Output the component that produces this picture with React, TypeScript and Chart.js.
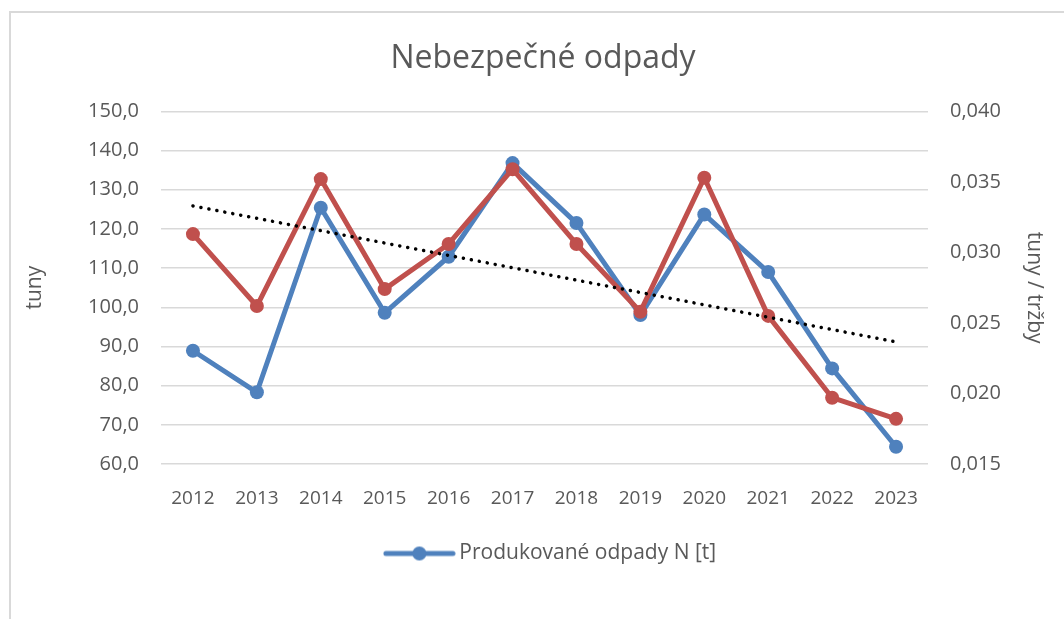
import React, { useEffect, useRef } from 'react';
import { Chart, registerables } from 'chart.js';

Chart.register(...registerables);

const years = ['2012', '2013', '2014', '2015', '2016', '2017', '2018', '2019', '2020', '2021', '2022', '2023'];
const producedWaste = [88.9, 78.3, 125.4, 98.6, 112.9, 136.8, 121.5, 98.0, 123.7, 109.0, 84.4, 64.4];
const wastePerRevenue = [0.0313, 0.0262, 0.0352, 0.0274, 0.0306, 0.0359, 0.0306, 0.0258, 0.0353, 0.0255, 0.0197, 0.0182];
const leftTicks = [60, 70, 80, 90, 100, 110, 120, 130, 140, 150];
const rightTicks = [0.015, 0.02, 0.025, 0.03, 0.035, 0.04];

const titleText = 'Nebezpečné odpady';
const seriesLabel = 'Produkované odpady N [t]';
const leftTitle = 'tuny';
const rightTitle = 'tuny / tržby';

const BLUE = '#4F81BD';
const RED = '#C0504D';
const TEXT = '#595959';
const GRID = '#D9D9D9';
const FONT = "'Open Sans', 'DejaVu Sans', sans-serif";

function linearTrend(values: number[]): number[] {
  const n = values.length;
  const mx = (n - 1) / 2;
  const my = values.reduce((a, b) => a + b, 0) / n;
  let sxy = 0;
  let sxx = 0;
  values.forEach((v, i) => {
    sxy += (i - mx) * (v - my);
    sxx += (i - mx) * (i - mx);
  });
  const slope = sxy / sxx;
  return values.map((_, i) => my + slope * (i - mx));
}

function makeLegendIcon(): HTMLCanvasElement {
  const c = document.createElement('canvas');
  c.width = 73;
  c.height = 16;
  const ctx = c.getContext('2d')!;
  ctx.strokeStyle = BLUE;
  ctx.lineWidth = 5;
  ctx.lineCap = 'round';
  ctx.beginPath();
  ctx.moveTo(3, 8);
  ctx.lineTo(70, 8);
  ctx.stroke();
  ctx.fillStyle = BLUE;
  ctx.beginPath();
  ctx.arc(36.5, 8, 7, 0, Math.PI * 2);
  ctx.fill();
  return c;
}

const shiftBoxes = {
  id: 'shiftBoxes',
  afterLayout(chart: any) {
    if (chart.titleBlock) {
      chart.titleBlock.left += 11;
      chart.titleBlock.right += 11;
    }
    if (chart.legend) {
      chart.legend.left += 21;
      chart.legend.right += 21;
    }
  },
};

export default function App() {
  const ref = useRef<HTMLCanvasElement>(null);

  useEffect(() => {
    if (!ref.current) return;
    const icon = makeLegendIcon();
    const trend = linearTrend(wastePerRevenue);
    const chart = new Chart(ref.current, {
      type: 'line',
      plugins: [shiftBoxes],
      data: {
        labels: years,
        datasets: [
          {
            label: seriesLabel,
            data: producedWaste,
            yAxisID: 'y',
            borderColor: BLUE,
            backgroundColor: BLUE,
            borderWidth: 5,
            pointRadius: 7,
            pointHoverRadius: 7,
            pointBackgroundColor: BLUE,
            pointBorderWidth: 0,
            borderJoinStyle: 'round',
            order: 2,
          },
          {
            label: 'tuny / tržby',
            data: wastePerRevenue,
            yAxisID: 'y1',
            borderColor: RED,
            backgroundColor: RED,
            borderWidth: 5,
            pointRadius: 7,
            pointHoverRadius: 7,
            pointBackgroundColor: RED,
            pointBorderWidth: 0,
            borderJoinStyle: 'round',
            order: 1,
          },
          {
            label: 'trend',
            data: trend,
            yAxisID: 'y1',
            borderColor: '#000000',
            borderWidth: 3.5,
            borderDash: [0.1, 8],
            borderCapStyle: 'round',
            pointRadius: 0,
            pointHoverRadius: 0,
            order: 0,
          },
        ],
      },
      options: {
        animation: false,
        responsive: false,
        maintainAspectRatio: false,
        layout: { padding: { left: 0, right: 0, top: 0, bottom: 45 } },
        plugins: {
          title: {
            display: true,
            text: titleText,
            color: TEXT,
            font: { family: FONT, size: 32, weight: 'normal' },
            padding: { top: 40, bottom: 33 },
          },
          legend: {
            display: true,
            position: 'bottom',
            labels: {
              usePointStyle: true,
              pointStyleWidth: 59,
              color: TEXT,
              font: { family: FONT, size: 21 },
              padding: 10,
              generateLabels: () => [
                {
                  text: seriesLabel,
                  datasetIndex: 0,
                  pointStyle: icon,
                  fillStyle: BLUE,
                  strokeStyle: BLUE,
                  lineWidth: 0,
                  hidden: false,
                  fontColor: TEXT,
                },
              ],
            },
          },
          tooltip: { enabled: false },
        },
        scales: {
          x: {
            offset: true,
            grid: { display: false },
            border: { display: false },
            ticks: { color: TEXT, font: { family: FONT, size: 19 }, padding: 15, maxRotation: 0 },
            afterFit: (s: any) => { s.height = 69; },
          },
          y: {
            position: 'left',
            min: 60,
            max: 150,
            afterBuildTicks: (s: any) => { s.ticks = leftTicks.map((v) => ({ value: v })); },
            grid: { color: GRID, lineWidth: 1.5, drawTicks: false },
            border: { display: false },
            ticks: {
              color: TEXT,
              font: { family: FONT, size: 20 },
              padding: 22,
              callback: (v: any) => Number(v).toFixed(1).replace('.', ','),
            },
            title: {
              display: true,
              text: leftTitle,
              color: TEXT,
              font: { family: FONT, size: 21 },
              padding: { top: 22, bottom: 0 },
            },
            afterFit: (s: any) => { s.width = 161; },
          },
          y1: {
            position: 'right',
            min: 0.015,
            max: 0.04,
            afterBuildTicks: (s: any) => { s.ticks = rightTicks.map((v) => ({ value: v })); },
            grid: { display: false, drawTicks: false },
            border: { display: false },
            ticks: {
              color: TEXT,
              font: { family: FONT, size: 20 },
              padding: 22,
              callback: (v: any) => Number(v).toFixed(3).replace('.', ','),
            },
            title: {
              display: true,
              text: rightTitle,
              color: TEXT,
              font: { family: FONT, size: 21 },
              padding: { top: 17, bottom: 0 },
            },
            afterFit: (s: any) => { s.width = 136; },
          },
        },
      },
    });
    return () => chart.destroy();
  }, []);

  return (
    <div style={{ position: 'absolute', left: 0, top: 0, width: 1064, height: 619, background: '#fff', overflow: 'hidden' }}>
      <div
        style={{
          position: 'absolute',
          left: 9,
          top: 11,
          width: 1100,
          height: 700,
          borderLeft: `2px solid ${GRID}`,
          borderTop: `2px solid ${GRID}`,
        }}
      />
      <canvas ref={ref} width={1064} height={619} style={{ position: 'absolute', left: 0, top: 0 }} />
    </div>
  );
}
